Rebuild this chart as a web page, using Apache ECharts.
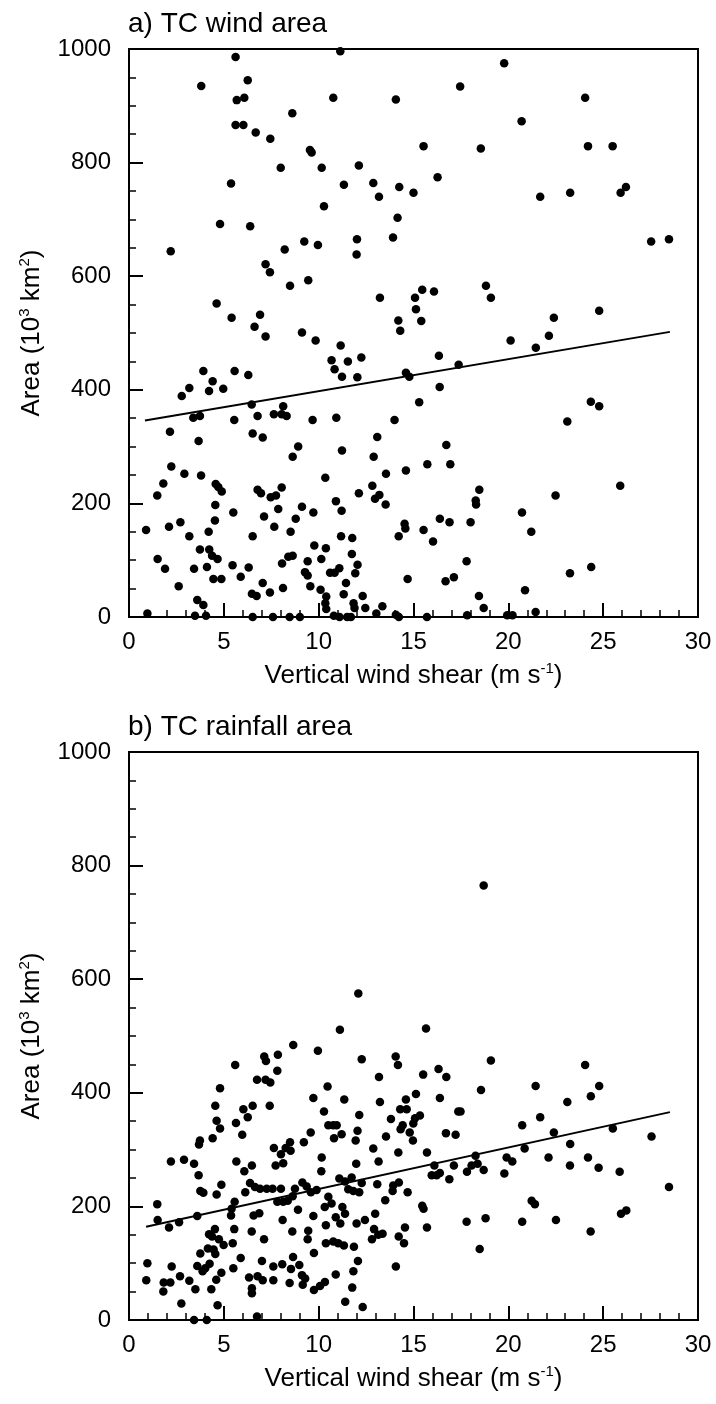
<!DOCTYPE html>
<html>
<head>
<meta charset="utf-8">
<script src="https://cdn.jsdelivr.net/npm/echarts@6/dist/echarts.min.js"></script>
<style>
html,body{margin:0;padding:0;background:#fff;}
#c{width:716px;height:1404px;}
</style>
</head>
<body>
<div id="c"></div>
<script>
// ---- data: [vertical wind shear (m/s), area (10^3 km^2)] ----
var windArea = [
[5.62,986],[3.81,935],[6.26,945],[5.68,910],[6.08,914],[10.77,914],[8.61,887],[5.62,866],[6.03,866],[6.68,853],[7.45,842],[9.54,822],[9.63,818],[8.0,791],[10.16,791],[5.38,763],[10.28,723],[4.80,692],[6.39,688],[2.20,644],[8.21,647],[9.24,661],[9.96,655],[7.2,621],[7.43,607],[8.49,583],[9.45,593],[4.62,552],[5.41,527],[6.91,532],
[11.14,996],[19.78,975],[17.46,934],[14.07,911],[24.05,914],[20.7,873],[15.53,829],[18.55,825],[24.2,829],[25.5,829],[12.12,795],[11.33,761],[12.88,764],[13.18,740],[14.25,757],[15.0,747],[16.27,774],[21.68,740],[23.26,747],[25.92,747],[26.2,757],[14.16,703],[12.02,665],[12.0,638],[13.92,668],[27.53,661],[28.47,665],[13.23,562],[15.08,562],[15.46,576],[15.13,542],[16.08,573],[18.82,583],[19.08,562],[24.79,539],[14.2,522],[15.41,521],[22.4,527],
[14.3,504],[10.68,452],[10.84,436],[11.23,423],[11.16,478],[11.54,450],[12.25,457],[12.04,422],[16.34,460],[17.38,444],[20.12,487],[21.45,474],[22.14,495],[14.6,430],[14.78,423],[16.38,405],[15.3,378],[10.93,351],[14.0,347],[13.09,317],[11.23,293],[12.9,282],[16.73,303],[16.94,269],[15.73,269],[14.6,258],[13.55,252],[12.83,231],[12.97,208],[13.2,215],[13.53,198],[12.12,218],[10.91,204],[11.21,187],[24.35,379],[24.79,371],[23.11,344],[25.9,231],[22.49,214],[20.72,184],[21.21,150],[18.47,224],[18.28,205],[18.3,198],[18.01,167],[16.39,173],[16.9,167],[14.53,164],[14.57,156],[14.22,142],[15.53,153],[16.03,133],[11.18,142],[11.77,139],[11.75,111],[12.05,92],[11.93,77],[11.44,60],[11.09,86],[10.84,78],[10.6,78],[11.32,40],[12.32,37],[11.84,24],[11.89,16],[12.46,16],[13.36,19],[13.04,6],[14.07,4],[14.23,0],[14.69,67],[16.69,63],[17.13,70],[17.8,98],[18.45,37],[18.7,16],[20.88,47],[23.25,77],[24.37,88],[15.71,0],[17.83,3],[19.94,3],[20.22,3],[21.44,9],[10.4,36],[10.35,24],[10.4,14],[10.8,2],[11.1,0],[11.5,0],[11.7,0],
[6.62,511],[7.2,494],[9.12,501],[9.84,487],[3.92,433],[5.57,433],[6.29,426],[4.41,415],[3.18,403],[4.22,398],[4.97,402],[2.78,389],[6.47,374],[8.13,371],[3.39,351],[3.74,354],[5.55,347],[6.78,354],[7.64,357],[8.05,357],[8.31,354],[9.68,347],[2.16,326],[3.67,310],[6.52,323],[7.05,316],[8.92,300],[8.63,282],[2.23,265],[2.92,252],[3.80,249],[1.81,235],[1.49,214],[4.57,234],[4.71,229],[4.89,221],[6.78,224],[6.96,218],[7.47,211],[7.75,214],[8.05,228],[10.35,245],[4.55,197],[5.50,184],[7.87,190],[7.12,177],[9.12,194],[8.79,173],[9.72,184],[4.53,170],[2.71,167],[2.11,159],[0.90,153],[7.66,159],[4.20,150],[8.52,150],[3.18,142],[6.52,142],[3.74,119],[4.23,119],[4.38,108],[4.67,102],[1.51,102],[1.90,85],[3.43,85],[4.11,88],[5.46,91],[6.31,87],[5.89,71],[4.45,67],[4.87,67],[8.07,94],[8.40,106],[8.63,108],[9.42,98],[10.14,102],[9.77,126],[10.38,121],[9.28,79],[9.42,73],[7.05,60],[2.62,54],[8.12,51],[9.56,54],[10.10,48],[7.43,43],[6.48,41],[6.73,37],[3.60,30],[3.92,21],[0.97,6],[3.48,2],[4.06,2],[6.52,0],[7.59,0],[8.47,0],[9.01,0]
];
var windFit = [[0.84,346],[28.52,502]];

var rainArea = [
[8.66,484],[9.96,474],[7.13,464],[7.22,456],[7.85,467],[5.6,449],[7.82,439],[6.75,423],[7.2,423],[7.45,418],[4.8,408],[10.47,411],[9.72,391],[4.55,377],[6.03,371],[6.26,357],[6.52,377],[7.42,377],[10.28,367],[4.62,351],[4.8,337],[4.41,320],[5.64,347],[5.97,326],[10.51,343],[3.74,316],[3.69,309],[9.58,330],[9.22,313],[7.64,303],[8.01,292],[8.26,303],[8.49,313],[8.52,298],[8.13,276],[7.73,272],[10.16,286],[2.21,279],[2.9,282],[3.43,275],[3.67,255],[5.66,279],[6.08,262],[6.48,272],[10.14,262],[3.76,227],[3.92,224],[4.87,238],[4.62,221],[6.13,225],[6.38,241],[6.64,234],[6.91,231],[7.26,231],[7.57,231],[8.01,231],[8.75,231],[9.14,242],[9.37,235],[9.59,225],[9.89,229],[10.51,217],[1.49,204],[5.57,208],[5.41,196],[5.38,184],[7.82,208],[8.13,208],[8.37,210],[8.63,218],[8.91,194],[10.32,199],[6.57,184],[6.87,188],[8.1,176],[9.72,183],[10.38,167],[3.6,183],[1.51,176],[2.11,163],[2.64,172],[5.55,160],[6.47,156],[8.61,156],[9.45,157],[9.42,142],[10.38,135],[4.22,151],[4.53,160],[4.38,147],[4.74,142],[4.99,132],[5.47,135],[7.12,142],[4.16,126],[4.46,124],[4.55,116],[3.76,117],[9.75,118],[3.6,95],[3.88,86],[4.02,91],[4.25,99],[2.25,94],[0.97,100],[0.91,70],[1.83,66],[2.18,66],[2.69,77],[3.18,69],[1.81,50],[3.5,54],[2.76,29],[4.87,83],[4.6,71],[4.34,54],[4.67,26],[3.43,0],[4.1,0],[5.5,91],[5.89,109],[6.33,75],[6.48,56],[6.48,47],[6.78,77],[7.05,70],[7.01,104],[6.75,6],[7.61,94],[7.61,70],[8.08,98],[8.47,65],[8.54,90],[8.65,111],[8.98,97],[9.12,79],[9.16,62],[9.29,73],[9.75,53],[10.07,60],[10.33,67],
[12.09,575],[11.12,511],[15.66,513],[12.27,459],[14.06,464],[14.18,449],[19.08,457],[13.18,428],[15.51,432],[16.32,442],[16.73,428],[18.56,405],[11.35,388],[13.23,384],[14.6,388],[15.13,398],[16.39,391],[17.36,367],[17.48,367],[14.3,371],[14.64,371],[12.14,361],[13.81,354],[15.08,355],[15.34,360],[14.99,346],[14.43,343],[14.32,336],[14.8,330],[14.97,316],[10.77,343],[10.95,343],[10.81,320],[11.21,327],[12.05,333],[11.95,316],[16.71,329],[17.22,326],[13.55,323],[12.88,302],[14.2,295],[15.71,295],[13.16,279],[11.98,275],[16.1,272],[15.96,255],[16.22,255],[16.39,259],[16.89,248],[17.13,272],[17.82,261],[18.27,289],[18.06,272],[18.38,275],[18.7,264],[19.79,258],[19.91,286],[20.21,279],[11.09,249],[11.39,244],[11.74,251],[11.56,230],[11.83,227],[12.14,225],[12.27,241],[10.68,205],[13.09,239],[13.93,237],[13.9,227],[14.23,242],[14.69,225],[13.51,211],[11.25,199],[11.39,187],[10.9,181],[11.14,170],[12.0,170],[12.44,176],[12.98,187],[15.46,201],[15.53,196],[14.55,163],[15.71,163],[12.92,160],[13.14,150],[13.37,152],[12.81,142],[14.22,147],[14.5,135],[10.77,138],[11.03,135],[11.33,131],[11.86,129],[17.8,173],[18.8,179],[18.49,125],[12.07,104],[11.83,86],[14.07,94],[10.9,80],[11.77,57],[11.4,32],[12.32,23],[18.7,765],
[24.05,449],[21.44,412],[24.79,412],[24.35,394],[23.11,384],[21.68,357],[20.73,343],[22.4,330],[25.51,337],[27.55,323],[20.86,302],[23.26,310],[22.12,286],[23.25,272],[24.2,286],[24.76,268],[25.87,261],[28.47,234],[21.23,210],[21.4,204],[20.73,173],[22.51,176],[25.94,187],[26.22,193],[24.34,156]
];
var rainFit = [[0.9,164],[28.52,366]];

var xTicks = [0, 5, 10, 15, 20, 25, 30];
var yTicks = [0, 200, 400, 600, 800, 1000];
var titles = ['a) TC wind area', 'b) TC rainfall area'];
var xName = '{n|Vertical wind shear (m s}{s|-1}{n|)}';
var yName = '{n|Area (10}{s|3}{n| km}{s|2}{n|)}';

// ---- chart ----
var FONT = '"Liberation Sans", Arial, Helvetica, sans-serif';
var chart = echarts.init(document.getElementById('c'), null, {renderer: 'canvas'});
var nameRich = {
  n: {fontSize: 26, fontFamily: FONT, color: '#000', lineHeight: 30},
  s: {fontSize: 15, fontFamily: FONT, color: '#000', verticalAlign: 'top'}
};
function plainNum(v) { return String(v); }
function xAxis(i) {
  return {
    gridIndex: i, type: 'value', min: xTicks[0], max: xTicks[xTicks.length - 1], interval: 5,
    name: xName, nameLocation: 'middle', nameGap: 44,
    nameTextStyle: {rich: nameRich},
    axisLine: {show: true, lineStyle: {color: '#000', width: 2}},
    axisTick: {show: true, inside: true, length: 14, lineStyle: {color: '#000', width: 2}},
    minorTick: {show: true, splitNumber: 5, length: 7, lineStyle: {color: '#000', width: 1.5}},
    axisLabel: {color: '#000', fontSize: 24, fontFamily: FONT, margin: 13, formatter: plainNum},
    splitLine: {show: false}
  };
}
function yAxis(i) {
  return {
    gridIndex: i, type: 'value', min: yTicks[0], max: yTicks[yTicks.length - 1], interval: 200,
    name: yName, nameLocation: 'middle', nameGap: 82,
    nameTextStyle: {rich: nameRich},
    axisLine: {show: true, lineStyle: {color: '#000', width: 2}},
    axisTick: {show: true, inside: true, length: 14, lineStyle: {color: '#000', width: 2}},
    minorTick: {show: true, splitNumber: 4, length: 7, lineStyle: {color: '#000', width: 1.5}},
    axisLabel: {color: '#000', fontSize: 24, fontFamily: FONT, margin: 18, formatter: plainNum},
    splitLine: {show: false}
  };
}
chart.setOption({
  animation: false,
  backgroundColor: '#fff',
  title: [
    {text: titles[0], left: 128, top: 10, padding: 0,
     textStyle: {fontSize: 28, fontWeight: 'normal', fontFamily: FONT, color: '#000'}},
    {text: titles[1], left: 128, top: 713, padding: 0,
     textStyle: {fontSize: 28, fontWeight: 'normal', fontFamily: FONT, color: '#000'}}
  ],
  grid: [
    {left: 129, top: 49, width: 569, height: 568, show: true, borderColor: '#000', borderWidth: 2, containLabel: false},
    {left: 129, top: 752, width: 569, height: 568, show: true, borderColor: '#000', borderWidth: 2, containLabel: false}
  ],
  xAxis: [xAxis(0), xAxis(1)],
  yAxis: [yAxis(0), yAxis(1)],
  series: [
    {type: 'scatter', xAxisIndex: 0, yAxisIndex: 0, data: windArea, symbolSize: 8.5, clip: false,
     itemStyle: {color: '#000', opacity: 1}, z: 3},
    {type: 'line', xAxisIndex: 0, yAxisIndex: 0, data: windFit, symbol: 'none',
     lineStyle: {color: '#000', width: 2}, z: 4},
    {type: 'scatter', xAxisIndex: 1, yAxisIndex: 1, data: rainArea, symbolSize: 8.5, clip: false,
     itemStyle: {color: '#000', opacity: 1}, z: 3},
    {type: 'line', xAxisIndex: 1, yAxisIndex: 1, data: rainFit, symbol: 'none',
     lineStyle: {color: '#000', width: 2}, z: 4}
  ]
});
</script>
</body>
</html>
